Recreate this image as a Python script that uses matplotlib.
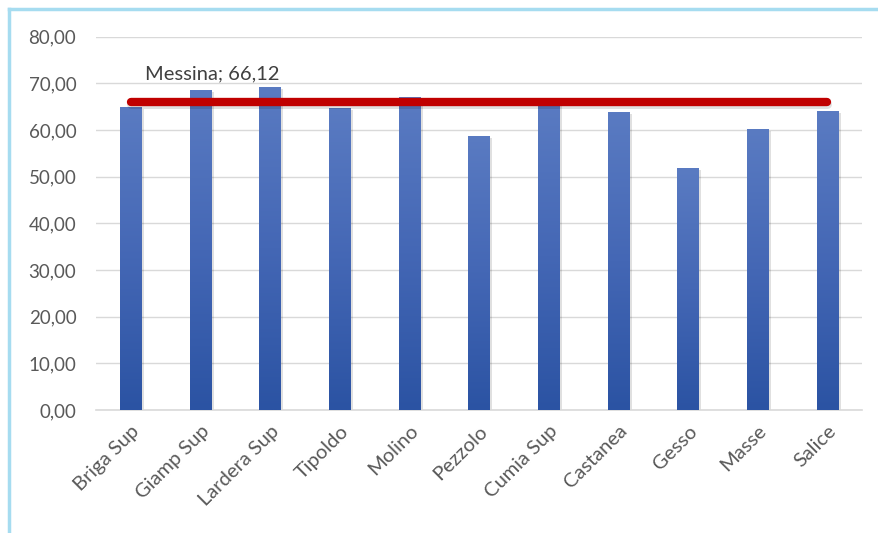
import numpy as np
import matplotlib.pyplot as plt
from matplotlib.colors import LinearSegmentedColormap
from matplotlib.lines import Line2D

# Quartieri di Messina and their index values
quartieri = ["Briga Sup", "Giamp Sup", "Lardera Sup", "Tipoldo", "Molino", "Pezzolo",
             "Cumia Sup", "Castanea", "Gesso", "Masse", "Salice"]
valori = [64.9, 68.6, 69.3, 64.8, 67.1, 58.8, 65.9, 63.8, 51.8, 60.3, 64.0]
media_label = "Messina"
media_val = 66.12
yticks = [0, 10, 20, 30, 40, 50, 60, 70, 80]

plt.rcParams['font.family'] = ['Lato', 'DejaVu Sans']

fig = plt.figure(figsize=(8.79, 5.33), dpi=100)
ax = fig.add_axes([0.109, 0.231, 0.872, 0.70])

x = np.arange(len(quartieri))
bw = 0.31
bars = ax.bar(x, valori, width=bw, color='none', zorder=3)

# vertical blue gradient inside every bar, with a soft shadow to the right
grad = LinearSegmentedColormap.from_list("blu", ["#2B53A3", "#4467B5", "#5A7BC2"])
g = np.linspace(0, 1, 256).reshape(-1, 1)
for b in bars:
    x0, w, h = b.get_x(), b.get_width(), b.get_height()
    ax.bar(x0 + w / 2 + 0.035, h, width=w, bottom=-0.4, color='#000000', alpha=0.12, zorder=2)
    im = ax.imshow(g, cmap=grad, aspect='auto', origin='lower',
                   extent=[x0, x0 + w, 0, h], zorder=3)
    im.set_clip_path(b)

# average line with shadow
ax.plot([x[0], x[-1]], [media_val - 0.5, media_val - 0.5], color='#000000', alpha=0.12,
        lw=6.5, solid_capstyle='round', zorder=4)
ax.plot([x[0], x[-1]], [media_val, media_val], color='#C00000', lw=6,
        solid_capstyle='round', zorder=5)
ax.text(x[0] + 0.2, media_val + 6.0, f"{media_label}; {media_val:.2f}".replace('.', ','),
        fontsize=14.5, color='#404040', ha='left', va='center', zorder=6)

ax.set_xlim(-0.5, len(quartieri) - 0.5)
ax.set_ylim(0, 80)
ax.set_yticks(yticks)
ax.set_yticklabels([f"{v:.2f}".replace('.', ',') for v in yticks], fontsize=13.5, color='#595959')
ax.set_xticks(x)
ax.set_xticklabels(quartieri, rotation=45, ha='right', rotation_mode='anchor',
                   fontsize=14.5, color='#595959')
ax.tick_params(axis='both', length=0, pad=14)
ax.tick_params(axis='x', pad=9)
ax.yaxis.grid(True, color='#D9D9D9', lw=1, zorder=0)
ax.set_axisbelow(True)
for s in ['top', 'right', 'left']:
    ax.spines[s].set_visible(False)
ax.spines['bottom'].set_color('#D9D9D9')
ax.spines['bottom'].set_linewidth(1.2)

# light blue frame on the left and top edges
fig.add_artist(Line2D([0.0105, 0.0105], [0, 0.984], color='#A6DCF0', lw=2.5,
                      transform=fig.transFigure))
fig.add_artist(Line2D([0.0105, 1.0], [0.984, 0.984], color='#A6DCF0', lw=2.5,
                      transform=fig.transFigure))

fig.savefig("out.png", dpi=100, facecolor='white')
